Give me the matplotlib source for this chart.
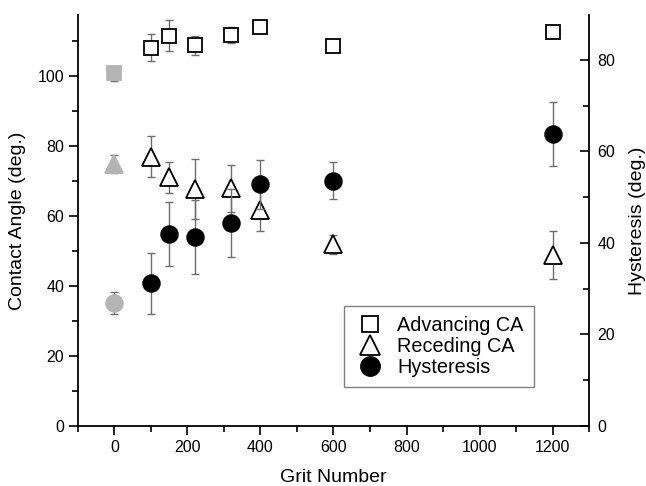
import numpy as np
import matplotlib.pyplot as plt
from matplotlib.lines import Line2D

plt.rcParams['font.family'] = ['Liberation Sans', 'DejaVu Sans']

# grit numbers (0 = untreated, drawn in gray)
grit = [0, 100, 150, 220, 320, 400, 600, 1200]

adv = [100.6, 108.0, 111.4, 108.6, 111.6, 113.9, 108.5, 112.5]
adv_err = [2.2, 3.8, 4.4, 2.8, 2.4, 1.0, 1.0, 1.0]

rec = [74.7, 76.9, 71.0, 67.7, 67.8, 61.6, 51.9, 48.8]
rec_err = [2.5, 5.8, 4.4, 8.5, 6.7, 6.0, 2.7, 6.9]

hys = [26.8, 31.2, 41.9, 41.2, 44.4, 52.8, 53.6, 63.8]
hys_err = [2.4, 6.7, 7.0, 8.1, 7.4, 5.3, 4.0, 7.0]

fig = plt.figure(figsize=(6.46, 4.86), dpi=100)
ax = fig.add_axes([0.1207, 0.1235, 0.7911, 0.8457])
ax2 = ax.twinx()

ecol = '#6e6e6e'
gray = '#b4b4b4'

def draw(a, x, y, e, marker, ms, face):
    a.errorbar(x, y, yerr=e, fmt='none', ecolor=ecol,
               elinewidth=1, capsize=3, capthick=1, zorder=2)
    a.plot(x[1:], y[1:], linestyle='none', marker=marker, ms=ms,
           mfc=face, mec='black', mew=1.3, zorder=3)
    a.plot(x[:1], y[:1], linestyle='none', marker=marker, ms=ms,
           mfc=gray, mec=gray, mew=1.3, zorder=3)

draw(ax, grit, adv, adv_err, 's', 10.5, 'white')
draw(ax, grit, rec, rec_err, '^', 13, 'white')
draw(ax2, grit, hys, hys_err, 'o', 12, 'black')

ax.set_xlim(-100, 1300)
ax.set_ylim(0, 117.3)
ax2.set_ylim(0, 89.8)

ax.set_xticks(np.arange(0, 1201, 200))
ax.set_xticks(np.arange(-100, 1301, 100), minor=True)
ax.set_yticks(np.arange(0, 101, 20))
ax.set_yticks(np.arange(0, 117, 10), minor=True)
ax2.set_yticks(np.arange(0, 81, 20))
ax2.set_yticks(np.arange(0, 90, 10), minor=True)

for a in (ax, ax2):
    a.spines['top'].set_visible(False)
    for s in a.spines.values():
        s.set_linewidth(1.3)
ax.spines['right'].set_visible(False)
ax2.spines['left'].set_visible(False)
ax2.spines['bottom'].set_visible(False)

ax.tick_params(which='major', direction='out', length=6.5, width=1.2, labelsize=11.5)
ax.tick_params(which='minor', direction='out', length=4.5, width=1.2)
ax2.tick_params(which='major', direction='in', length=6.5, width=1.2, labelsize=11.5, pad=6)
ax2.tick_params(which='minor', direction='in', length=4.5, width=1.2)

ax.set_xlabel('Grit Number', fontsize=14, labelpad=10)
ax.set_ylabel('Contact Angle (deg.)', fontsize=14, labelpad=8)
ax2.set_ylabel('Hysteresis (deg.)', fontsize=14, labelpad=10)

handles = [
    Line2D([], [], linestyle='none', marker='s', ms=12, mfc='white', mec='black', mew=1.3),
    Line2D([], [], linestyle='none', marker='^', ms=14, mfc='white', mec='black', mew=1.3),
    Line2D([], [], linestyle='none', marker='o', ms=14, mfc='black', mec='black'),
]
leg = ax2.legend(handles, ['Advancing CA', 'Receding CA', 'Hysteresis'],
                 loc='upper left', bbox_to_anchor=(0.52, 0.292), borderaxespad=0,
                 fontsize=14.3, fancybox=False, edgecolor='#808080',
                 handletextpad=0.6, labelspacing=0.1, borderpad=0.5, framealpha=1,
                 handlelength=1.6)
leg.get_frame().set_linewidth(1.0)

fig.savefig('out.png', dpi=100)
